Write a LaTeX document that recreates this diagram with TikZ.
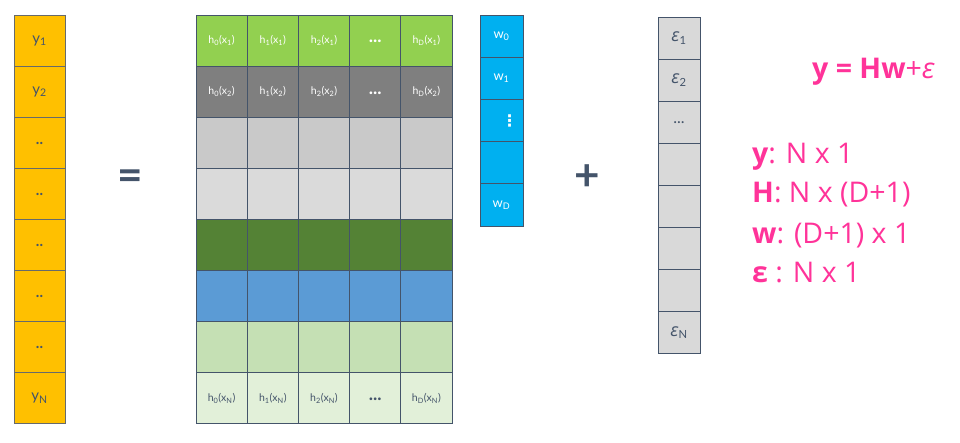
\documentclass[tikz,border=0pt]{standalone}
\usepackage{fontspec}
\setmainfont{Lato}
\newfontfamily\osans{Open Sans}
\newfontfamily\dvs{DejaVu Sans}
\definecolor{ycol}{HTML}{FFC000}
\definecolor{hgreen}{HTML}{92D050}
\definecolor{hgray}{HTML}{7F7F7F}
\definecolor{hlga}{HTML}{C9C9C9}
\definecolor{hlgb}{HTML}{DADADA}
\definecolor{hdgreen}{HTML}{548235}
\definecolor{hblue}{HTML}{5B9BD5}
\definecolor{hlgreen}{HTML}{C5E0B4}
\definecolor{hllgreen}{HTML}{E2F0D9}
\definecolor{wcol}{HTML}{00B0F0}
\definecolor{ecol}{HTML}{D9D9D9}
\definecolor{pinkc}{HTML}{FF3399}
\definecolor{darkc}{HTML}{44546A}
\definecolor{ygray}{HTML}{7F8487}
\newcommand{\hdots}{\raisebox{-5pt}{\fontsize{18}{18}\selectfont\textbf{...}}}
\newcommand{\epsi}{{\osans\itshape\fontsize{18}{18}\selectfont ε}}
\newcommand{\ydots}{\textbf{..}}
\begin{document}
\begin{tikzpicture}[x=1pt,y=-1pt,
  cell/.style={draw=darkc, line width=1pt, anchor=north west, inner sep=0pt, outer sep=0pt},
  ycell/.style={cell, draw=ygray!80!black, fill=ycol, minimum width=51pt, minimum height=51.1pt, text=darkc, font=\fontsize{15}{15}\selectfont},
  hcell/.style={cell, minimum width=51.2pt, minimum height=51.1pt, font=\fontsize{10.5}{10.5}\selectfont},
  wcell/.style={cell, fill=wcol, minimum width=43pt, minimum height=42.2pt, text=white, font=\fontsize{13}{13}\selectfont},
  ecell/.style={cell, fill=ecol, minimum width=42pt, minimum height=42.1pt, text=darkc, font=\fontsize{16}{16}\selectfont},
  pink/.style={text=pinkc, anchor=west, inner sep=0pt, font=\osans\fontsize{28.5}{28.5}\selectfont}
]
\useasboundingbox (0,0) rectangle (960,442);
% y column
\foreach \i/\t in {1/{y\textsubscript{1}},2/{y\textsubscript{2}},3/{\ydots},4/{\ydots},5/{\ydots},6/{\ydots},7/{\ydots},8/{y\textsubscript{N}}}{
  \node[ycell] (y\i) at (14,{15+51.1*(\i-1)}) {\raisebox{-3pt}{\t}};
}
% H matrix rows
\foreach \c/\t in {1/{h\textsubscript{0}(x\textsubscript{1})},2/{h\textsubscript{1}(x\textsubscript{1})},3/{h\textsubscript{2}(x\textsubscript{1})},4/{\hdots},5/{h\textsubscript{D}(x\textsubscript{1})}}{
  \node[hcell, fill=hgreen, text=white] (h1\c) at ({196+51.2*(\c-1)},15) {\t};
}
\foreach \c/\t in {1/{h\textsubscript{0}(x\textsubscript{2})},2/{h\textsubscript{1}(x\textsubscript{2})},3/{h\textsubscript{2}(x\textsubscript{2})},4/{\hdots},5/{h\textsubscript{D}(x\textsubscript{2})}}{
  \node[hcell, fill=hgray, text=white] (h2\c) at ({196+51.2*(\c-1)},66.1) {\t};
}
\foreach \r/\col in {3/hlga,4/hlgb,5/hdgreen,6/hblue,7/hlgreen}{
  \foreach \c in {1,...,5}{
    \node[hcell, fill=\col] (h\r\c) at ({196+51.2*(\c-1)},{15+51.1*(\r-1)}) {};
  }
}
\foreach \c/\t in {1/{h\textsubscript{0}(x\textsubscript{N})},2/{h\textsubscript{1}(x\textsubscript{N})},3/{h\textsubscript{2}(x\textsubscript{N})},4/{\hdots},5/{h\textsubscript{D}(x\textsubscript{N})}}{
  \node[hcell, fill=hllgreen, text=darkc] (h8\c) at ({196+51.2*(\c-1)},372.7) {\t};
}
% w column
\foreach \i/\t in {1/{w\textsubscript{0}},2/{w\textsubscript{1}},3/{\hspace*{16pt}{\dvs\bfseries\fontsize{16}{16}\selectfont ⋮}},4/{},5/{w\textsubscript{D}}}{
  \node[wcell] (w\i) at (480,{15+42.2*(\i-1)}) {\t};
}
% epsilon column
\foreach \i/\t in {1/{\epsi\textsubscript{1}},2/{\epsi\textsubscript{2}},3/{...},4/{},5/{},6/{},7/{},8/{\raisebox{-4pt}{\epsi\textsubscript{N}}}}{
  \node[ecell] (e\i) at (658,{17+42.1*(\i-1)}) {\t};
}
% operators
\node[text=darkc, font=\fontsize{44}{44}\selectfont\bfseries] (eq) at (130,180) {=};
\node[text=darkc, font=\fontsize{44}{44}\selectfont\bfseries] (plus) at (587,178) {+};
% formulas
\node[pink] (f0) at (812,72) {\textbf{y = Hw}+\textit{ε}};
\node[pink] (f1) at (752,157) {\textbf{y}: N x 1};
\node[pink] (f2) at (752,195) {\textbf{H}: N x (D+1)};
\node[pink] (f3) at (752,236) {\textbf{w}: (D+1) x 1};
\node[pink] (f4) at (752,273) {\textbf{ε} : N x 1};
\end{tikzpicture}
\end{document}
